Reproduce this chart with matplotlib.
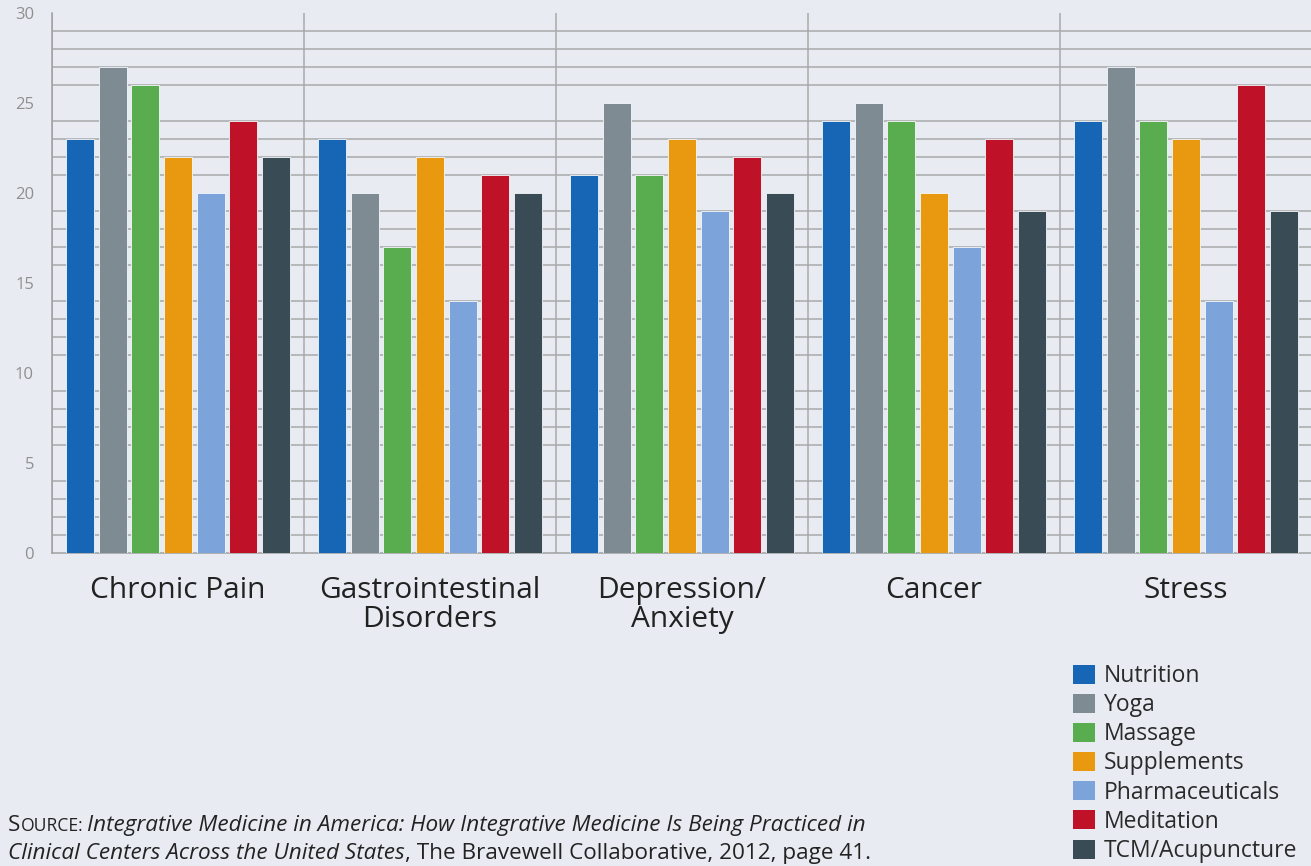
import matplotlib
matplotlib.use("Agg")
import matplotlib.pyplot as plt
import numpy as np
from matplotlib.patches import Patch

categories = ["Chronic Pain", "Gastrointestinal\nDisorders", "Depression/\nAnxiety", "Cancer", "Stress"]
series_names = ["Nutrition", "Yoga", "Massage", "Supplements", "Pharmaceuticals", "Meditation", "TCM/Acupuncture"]
values = {
    "Nutrition":       [23, 23, 21, 24, 24],
    "Yoga":            [27, 20, 25, 25, 27],
    "Massage":         [26, 17, 21, 24, 24],
    "Supplements":     [22, 22, 23, 20, 23],
    "Pharmaceuticals": [20, 14, 19, 17, 14],
    "Meditation":      [24, 21, 22, 23, 26],
    "TCM/Acupuncture": [22, 20, 20, 19, 19],
}
colors = ["#1766b6", "#7f8b93", "#5aad4f", "#e8990f", "#7ca3da", "#bf1229", "#394b54"]
yticks = [0, 5, 10, 15, 20, 25, 30]

bg = "#e8ecf2"
W, H = 1311, 866
fig = plt.figure(figsize=(W / 100, H / 100), dpi=100, facecolor=bg)
ax = fig.add_axes([52 / W, 1 - 553 / H, (1312 - 52) / W, (553 - 13) / H])
ax.set_facecolor(bg)

n = len(series_names)
x = np.arange(len(categories))
step = 0.1297
bw = 0.111
for i, name in enumerate(series_names):
    offs = (i - (n - 1) / 2) * step
    ax.bar(x + offs, values[name], width=bw, color=colors[i], zorder=3,
           edgecolor="#f4f8fc", linewidth=0.6)

sans = ["Open Sans", "DejaVu Sans"]
ax.set_xlim(-0.5, len(categories) - 0.5)
ax.set_ylim(0, 30)
ax.set_yticks(yticks)
ax.set_yticks(np.arange(0, 31, 1), minor=True)
ax.set_xticks(x)
ax.set_xticks(np.arange(-0.5, len(categories), 1), minor=True)
ax.set_xticklabels(categories, fontsize=21.5, family=sans, color="#222222")
for t in ax.get_xticklabels():
    t.set_linespacing(1.02)
ax.tick_params(axis="x", which="both", length=0, pad=16.5)
ax.tick_params(axis="y", which="both", length=0, pad=13, labelsize=12, labelcolor="#8f8f8f")
for t in ax.get_yticklabels():
    t.set_family(sans)

ax.grid(True, which="minor", axis="y", color="#a9a9a9", linewidth=1.1, zorder=1)
ax.grid(True, which="minor", axis="x", color="#a9a9a9", linewidth=1.1, zorder=1)
ax.grid(False, which="major")
for s in ["top", "right"]:
    ax.spines[s].set_visible(False)
for s in ["left", "bottom"]:
    ax.spines[s].set_color("#a0a0a0")
    ax.spines[s].set_linewidth(1.1)

handles = [Patch(facecolor=c, edgecolor="none") for c in colors]
fig.legend(handles, series_names, loc="upper left", bbox_to_anchor=(1073 / W, 1 - 664 / H),
           frameon=False, handlelength=0.95, handleheight=0.9,
           handletextpad=0.38, labelspacing=0.225, borderpad=0, borderaxespad=0,
           prop={"family": sans, "size": 16.5}, labelcolor="#2a2a2a")

# source note
fam = ["Open Sans", "DejaVu Sans"]
fig.canvas.draw()
r = fig.canvas.get_renderer()
def put(xpx, ypx, s, size, style="normal"):
    t = fig.text(xpx / W, 1 - ypx / H, s, fontsize=size, family=fam, style=style,
                 color="#222222", va="baseline", ha="left")
    bb = t.get_window_extent(renderer=r)
    return t, xpx + bb.width
def line1(fs):
    arts = []
    t, xx = put(8, 831, "S", fs); arts.append(t)
    t, xx = put(xx, 831, "OURCE:", fs * 0.78); arts.append(t)
    t, xx = put(xx + 4, 831, "Integrative Medicine in America: How Integrative Medicine Is Being Practiced in", fs, "italic"); arts.append(t)
    return arts, xx
arts, end = line1(14)
fs = 14 * (868 - 8) / (end - 8)
for a in arts:
    a.remove()
line1(fs)
t, xx = put(8, 859, "Clinical Centers Across the United States", fs, "italic")
put(xx, 859, ", The Bravewell Collaborative, 2012, page 41.", fs)

fig.savefig("out.png", dpi=100, facecolor=bg)
